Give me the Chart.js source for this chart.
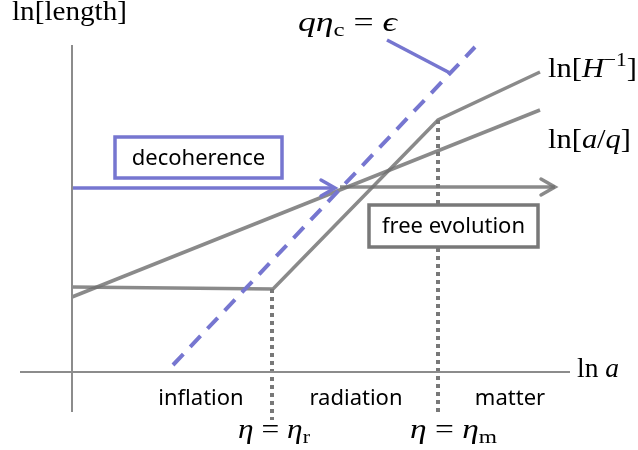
<!DOCTYPE html>
<html lang="en">
<head>
<meta charset="UTF-8">
<title>Decoherence and free evolution</title>
<script src="https://cdn.jsdelivr.net/npm/chart.js"></script>
<style>
  html, body { margin: 0; padding: 0; background: #fff; }
  #wrap { width: 638px; height: 450px; }
</style>
</head>
<body>
<div id="wrap"><canvas id="sketch" width="638" height="450"></canvas></div>
<script>
// x = ln a, y = ln[length], arbitrary units, axes cross at (0, 0)
const axisX = [[-5.2, 0], [49.8, 0]];
const axisY = [[0, -4.0], [0, 32.7]];
const aOverQ = [[0, 7.5], [46.8, 26.2]];
const hubble = [[0, 8.5], [20.1, 8.3], [36.6, 25.2], [46.8, 30.0]];
const crossing = [[10.1, 0.7], [40.3, 32.5]];
const etaR = [[20.0, 8.3], [20.0, -4.8]];
const etaM = [[36.6, 25.2], [36.6, -4.3]];
const decoArrow = [[0, 18.4], [26.3, 18.4]];
const freeArrow = [[26.8, 18.5], [48.3, 18.5]];
const pointer = [[31.5, 33.2], [37.8, 29.9]];
const eras = ['inflation', 'radiation', 'matter'];
const eraX = [12.9, 28.4, 43.8];

const GREY = 'rgba(112,112,112,0.82)';
const BLUE = 'rgba(118,118,208,1)';

const pts = a => a.map(p => ({ x: p[0], y: p[1] }));
const seg = (data, color, extra) => Object.assign({
  data: pts(data), showLine: true, borderColor: color, borderWidth: 3.5,
  pointRadius: 0, fill: false, tension: 0
}, extra || {});

// draw math-ish text, stretched to width w (Computer Modern is wider than Times)
function rich(ctx, runs, x, y, size, w) {
  const fontOf = r => (r.it ? 'italic ' : '') + ((r.sub || r.sup) ? size * 0.7 : size) + 'px "Liberation Serif"';
  let total = 0;
  runs.forEach(r => { ctx.font = fontOf(r); total += ctx.measureText(r.t).width; });
  ctx.save();
  ctx.translate(x, y);
  ctx.scale(w / total, 1);
  let cx = 0;
  runs.forEach(r => {
    const dy = r.sub ? size * 0.2 : r.sup ? -size * 0.4 : 0;
    ctx.font = fontOf(r);
    ctx.fillText(r.t, cx, dy);
    cx += ctx.measureText(r.t).width;
  });
  ctx.restore();
}

function chevron(ctx, x, y, color) {
  ctx.save();
  ctx.strokeStyle = color;
  ctx.lineWidth = 3.5;
  ctx.lineCap = 'round';
  ctx.beginPath();
  ctx.moveTo(x - 14, y - 8);
  ctx.lineTo(x, y);
  ctx.lineTo(x - 14, y + 8);
  ctx.stroke();
  ctx.restore();
}

const overlay = {
  id: 'overlay',
  afterDatasetsDraw(chart) {
    const ctx = chart.ctx;
    const xs = chart.scales.x, ys = chart.scales.y;
    const px = v => xs.getPixelForValue(v), py = v => ys.getPixelForValue(v);

    chevron(ctx, px(decoArrow[1][0]), py(decoArrow[1][1]), BLUE);
    chevron(ctx, px(freeArrow[1][0]), py(freeArrow[1][1]), GREY);

    // boxes
    const box = (x0, y0, x1, y1, color, text) => {
      const l = px(x0), t = py(y0), r = px(x1), b = py(y1);
      ctx.save();
      ctx.fillStyle = '#fff';
      ctx.fillRect(l, t, r - l, b - t);
      ctx.strokeStyle = color;
      ctx.lineWidth = 3.5;
      ctx.strokeRect(l, t, r - l, b - t);
      ctx.fillStyle = '#000';
      ctx.font = '22px "Noto Sans"';
      ctx.textAlign = 'center';
      ctx.textBaseline = 'middle';
      ctx.fillText(text, (l + r) / 2, (t + b) / 2 + 1);
      ctx.restore();
    };
    box(4.3, 23.5, 21.0, 19.4, BLUE, 'decoherence');
    box(29.7, 16.7, 46.6, 12.5, 'rgba(120,120,120,1)', 'free evolution');

    ctx.save();
    ctx.fillStyle = '#000';
    ctx.font = '22px "Noto Sans"';
    ctx.textAlign = 'center';
    ctx.textBaseline = 'alphabetic';
    eras.forEach((e, i) => ctx.fillText(e, px(eraX[i]), py(-3.3)));

    ctx.textAlign = 'left';
    const S = 27;
    rich(ctx, [{ t: 'ln[length]' }], px(-6.0), py(35.2), S, 115);
    rich(ctx, [{ t: 'q', it: 1 }, { t: 'η', it: 1 }, { t: 'c', sub: 1 }, { t: ' = ' }, { t: 'ϵ', it: 1 }], px(22.6), py(34.1), S, 99);
    rich(ctx, [{ t: 'ln[' }, { t: 'H', it: 1 }, { t: '−1', sup: 1 }, { t: ']' }], px(47.6), py(29.5), S, 89);
    rich(ctx, [{ t: 'ln[' }, { t: 'a', it: 1 }, { t: '/' }, { t: 'q', it: 1 }, { t: ']' }], px(47.6), py(22.4), S, 83);
    rich(ctx, [{ t: 'ln ' }, { t: 'a', it: 1 }], px(50.5), py(-0.5), S, 42);
    rich(ctx, [{ t: 'η', it: 1 }, { t: ' = ' }, { t: 'η', it: 1 }, { t: 'r', sub: 1 }], px(16.6), py(-6.6), S, 72);
    rich(ctx, [{ t: 'η', it: 1 }, { t: ' = ' }, { t: 'η', it: 1 }, { t: 'm', sub: 1 }], px(33.8), py(-6.6), S, 87);
    ctx.restore();
  }
};

new Chart(document.getElementById('sketch'), {
  type: 'scatter',
  data: {
    datasets: [
      seg(axisX, 'rgba(140,140,140,1)', { borderWidth: 2 }),
      seg(axisY, 'rgba(140,140,140,1)', { borderWidth: 2 }),
      seg(etaR, 'rgba(120,120,120,1)', { borderWidth: 4, borderDash: [4, 4] }),
      seg(etaM, 'rgba(120,120,120,1)', { borderWidth: 4, borderDash: [4, 4] }),
      seg(decoArrow, BLUE),
      seg(pointer, BLUE),
      seg(crossing, BLUE, { borderWidth: 4, borderDash: [15, 10] }),
      seg(aOverQ, GREY),
      seg(hubble, GREY),
      seg(freeArrow, GREY)
    ]
  },
  options: {
    responsive: false,
    maintainAspectRatio: false,
    animation: false,
    layout: { padding: 0 },
    plugins: { legend: { display: false }, tooltip: { enabled: false } },
    scales: {
      x: { type: 'linear', display: false, min: -7.2, max: 56.6 },
      y: { type: 'linear', display: false, min: -7.8, max: 37.2 }
    }
  },
  plugins: [overlay]
});
</script>
</body>
</html>
